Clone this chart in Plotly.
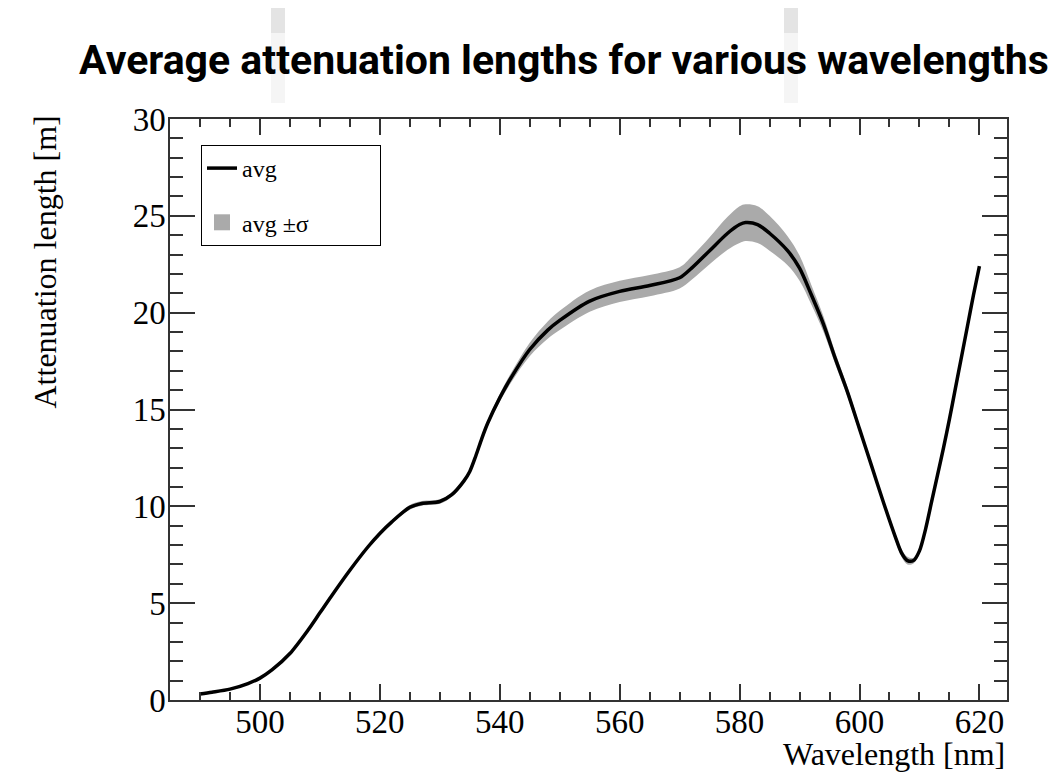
import plotly.graph_objects as go

# ---- data ----
wavelength = [490, 492, 495, 498, 500, 502, 505, 508, 510, 512, 515, 518, 520, 522,
              525, 527, 530, 532, 534, 535, 536, 537, 538, 540, 542, 545, 548, 550,
              555, 560, 565, 570, 572, 575, 578, 580, 581, 583, 585, 588, 590, 592,
              594, 596, 598, 600, 602, 604, 606, 607, 608, 609, 610, 611, 612, 613,
              614, 615, 616, 617, 618, 619, 620]
avg = [0.31, 0.40, 0.56, 0.85, 1.13, 1.55, 2.4, 3.6, 4.5, 5.4, 6.7, 7.9, 8.6, 9.2,
       9.95, 10.15, 10.25, 10.6, 11.3, 11.8, 12.6, 13.5, 14.3, 15.6, 16.7, 18.1, 19.1, 19.6,
       20.6, 21.1, 21.4, 21.8, 22.3, 23.2, 24.1, 24.55, 24.65, 24.55, 24.1, 23.2, 22.3, 20.9,
       19.4, 17.6, 15.9, 14.0, 12.1, 10.2, 8.4, 7.6, 7.2, 7.2, 7.7, 8.8, 10.2, 11.6,
       13.0, 14.5, 16.1, 17.7, 19.3, 20.9, 22.4]
sigma = [0.05, 0.05, 0.05, 0.05, 0.05, 0.05, 0.05, 0.05, 0.05, 0.05, 0.05, 0.05, 0.05, 0.08,
         0.12, 0.12, 0.12, 0.1, 0.1, 0.1, 0.12, 0.13, 0.15, 0.2, 0.25, 0.35, 0.45, 0.5,
         0.55, 0.55, 0.55, 0.55, 0.6, 0.7, 0.85, 0.95, 0.95, 0.95, 0.9, 0.75, 0.65, 0.5,
         0.4, 0.3, 0.25, 0.2, 0.15, 0.15, 0.2, 0.2, 0.2, 0.15, 0.12, 0.1, 0.08, 0.06,
         0.05, 0.05, 0.04, 0.03, 0.02, 0.01, 0.0]

x_ticks = [500, 520, 540, 560, 580, 600, 620]
y_ticks = [0, 5, 10, 15, 20, 25, 30]

upper = [a + s for a, s in zip(avg, sigma)]
lower = [a - s for a, s in zip(avg, sigma)]

serif = "Liberation Serif, Times New Roman, serif"
axis_col = "#333333"
band_col = "#aaaaaa"

# figure-space geometry (page has an 8px body margin)
L, R, T, B = 162, 60, 111, 80
PW, PH = 1059 - L - R, 772 - T - B

fig = go.Figure()
fig.add_trace(go.Scatter(x=wavelength, y=lower, mode="lines", line=dict(width=0, shape="spline"),
                         showlegend=False, hoverinfo="skip", legendgroup="band"))
fig.add_trace(go.Scatter(x=wavelength, y=upper, mode="lines", line=dict(width=0, shape="spline"),
                         fill="tonexty", fillcolor=band_col, showlegend=False,
                         name="avg ±σ", legendgroup="band"))
# legend entry for the band (square swatch like the original)
fig.add_trace(go.Scatter(x=[None], y=[None], mode="markers",
                         marker=dict(symbol="square", size=30, color=band_col),
                         name="avg ±σ" + "\u00a0" * 11, legendgroup="band", legendrank=2))
fig.add_trace(go.Scatter(x=wavelength, y=avg, mode="lines",
                         line=dict(color="black", width=3.5, shape="spline", smoothing=0.8),
                         name="avg", legendgroup="avg", legendrank=1))

# faint scan artefacts at the top of the image (screen x positions)
for xc in (278, 791):
    fx = xc - 8
    fig.add_shape(type="rect", xref="paper", yref="paper",
                  x0=(fx - L - 7) / PW, x1=(fx - L + 7) / PW,
                  y0=(PH + T) / PH, y1=(PH + T - 25) / PH,
                  fillcolor="#e4e4e4", line_width=0, layer="below")
    fig.add_shape(type="rect", xref="paper", yref="paper",
                  x0=(fx - L - 7) / PW, x1=(fx - L + 7) / PW,
                  y0=(PH + T - 25) / PH, y1=(PH + T - 95) / PH,
                  fillcolor="#f5f5f5", line_width=0, layer="below")

axis_common = dict(
    showgrid=False, zeroline=False, showline=True, linecolor=axis_col, linewidth=1.5,
    mirror="allticks", ticks="inside", tickcolor=axis_col, tickwidth=1.5,
    tickfont=dict(family=serif, size=33, color="black"),
)

fig.update_xaxes(range=[485, 624.6], tickvals=x_ticks, ticklen=16,
                 minor=dict(dtick=5, ticks="inside", ticklen=8, tickcolor=axis_col, tickwidth=1.5),
                 ticklabelstandoff=-8, **axis_common)
fig.update_yaxes(range=[0, 30], tickvals=y_ticks, ticklen=25,
                 minor=dict(dtick=1, ticks="inside", ticklen=13, tickcolor=axis_col, tickwidth=1.5),
                 ticklabelstandoff=-4, **axis_common)

fig.add_annotation(text="Attenuation length [m]", xref="paper", yref="paper",
                   x=(37 - L) / PW, y=1 + 6 / PH, xanchor="center", yanchor="top", textangle=-90,
                   showarrow=False, font=dict(family=serif, size=32, color="black"))
fig.add_annotation(text="Wavelength [nm]", xref="paper", yref="paper",
                   x=1.0, y=-(746 - (T + PH)) / PH, xanchor="right", yanchor="middle",
                   showarrow=False, font=dict(family=serif, size=32, color="black"))

fig.update_layout(
    width=1059, height=772,
    margin=dict(l=L, r=R, t=T, b=B),
    paper_bgcolor="white", plot_bgcolor="white",
    title=dict(text="<b>Average attenuation lengths for various wavelengths</b>",
               x=556 / 1059, xanchor="center", y=1 - 52 / 772, yanchor="middle",
               font=dict(family="Roboto, sans-serif", size=41, color="black")),
    legend=dict(x=(201 - 8 - L) / PW, y=1 - (145 - 8 - T) / PH, xanchor="left", yanchor="top",
                bordercolor="black", borderwidth=1, bgcolor="white",
                font=dict(family=serif, size=24, color="black"),
                tracegroupgap=20, itemwidth=30, itemsizing="trace"),
    showlegend=True,
)

fig.write_html("out.html")
